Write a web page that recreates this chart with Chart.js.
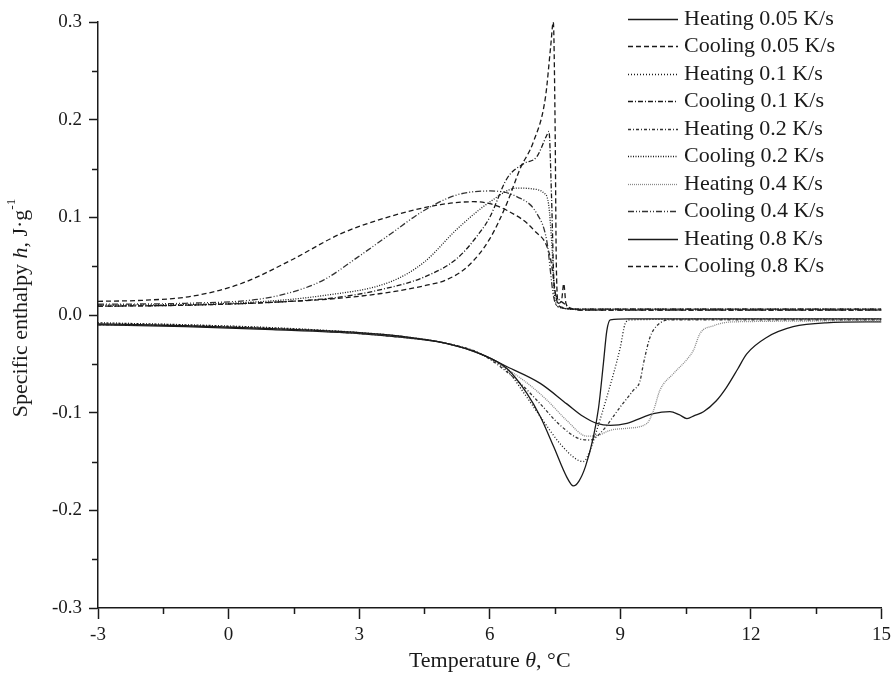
<!DOCTYPE html>
<html>
<head>
<meta charset="utf-8">
<script src="https://cdn.jsdelivr.net/npm/chart.js@4.4.0/dist/chart.umd.min.js"></script>
<style>
  html, body { margin: 0; padding: 0; background: #fff; }
  #wrap { width: 896px; height: 677px; }
</style>
</head>
<body>
<div id="wrap"><canvas id="chart" width="896" height="677"></canvas></div>
<script>
// Axis ticks
const xTicks = [-3, 0, 3, 6, 9, 12, 15];
const xMinor = [-1.5, 1.5, 4.5, 7.5, 10.5, 13.5];
const yTicks = [-0.3, -0.2, -0.1, 0.0, 0.1, 0.2, 0.3];
const yMinor = [-0.25, -0.15, -0.05, 0.05, 0.15, 0.25];

// Series labels (legend order)
const seriesLabels = [
    'Heating 0.05 K/s', 'Cooling 0.05 K/s',
    'Heating 0.1 K/s', 'Cooling 0.1 K/s',
    'Heating 0.2 K/s', 'Cooling 0.2 K/s',
    'Heating 0.4 K/s', 'Cooling 0.4 K/s',
    'Heating 0.8 K/s', 'Cooling 0.8 K/s'
];

// [temperature °C, specific enthalpy J/g]
const heating005 = [[-3,-0.009],[-1,-0.011],[1,-0.014],[3,-0.018],[4,-0.022],[5,-0.029],[5.8,-0.040],[6.4,-0.055],[6.85,-0.080],[7.16,-0.104],[7.47,-0.135],[7.77,-0.166],[7.92,-0.175],[8.05,-0.170],[8.2,-0.155],[8.38,-0.125],[8.5,-0.095],[8.61,-0.050],[8.69,-0.016],[8.77,-0.005],[9.2,-0.004],[12,-0.004],[15,-0.004]];
const cooling005 = [[-3,0.009],[-1,0.010],[1,0.013],[2.5,0.017],[3.5,0.022],[4.5,0.030],[5.0,0.036],[5.5,0.050],[6.0,0.078],[6.4,0.115],[6.7,0.150],[7.0,0.177],[7.28,0.223],[7.40,0.275],[7.46,0.300],[7.50,0.200],[7.53,0.050],[7.58,0.012],[7.65,0.015],[7.70,0.032],[7.75,0.012],[7.85,0.007],[8.2,0.005],[15,0.005]];
const heating01 = [[-3,-0.008],[-1,-0.010],[1,-0.013],[3,-0.018],[4,-0.022],[5,-0.029],[5.8,-0.040],[6.4,-0.057],[6.85,-0.084],[7.16,-0.104],[7.62,-0.132],[8.0,-0.148],[8.15,-0.150],[8.31,-0.138],[8.5,-0.112],[8.69,-0.084],[9.0,-0.033],[9.11,-0.009],[9.22,-0.005],[12,-0.004],[15,-0.004]];
const cooling01 = [[-3,0.009],[-1,0.010],[1,0.013],[2.5,0.018],[3.5,0.026],[4.5,0.039],[5.25,0.058],[5.78,0.085],[6.0,0.100],[6.4,0.140],[6.78,0.155],[7.08,0.162],[7.31,0.184],[7.36,0.188],[7.42,0.120],[7.48,0.030],[7.55,0.018],[7.7,0.012],[7.9,0.006],[8.3,0.005],[15,0.005]];
const heating02 = [[-3,-0.010],[-1,-0.011],[1,-0.014],[3,-0.019],[4,-0.023],[5,-0.029],[5.8,-0.040],[6.7,-0.070],[7.16,-0.091],[7.62,-0.113],[8.08,-0.127],[8.31,-0.128],[8.54,-0.121],[9.0,-0.094],[9.3,-0.077],[9.45,-0.068],[9.53,-0.050],[9.68,-0.023],[9.84,-0.011],[10.14,-0.005],[12,-0.005],[15,-0.005]];
const cooling02 = [[-3,0.010],[0,0.012],[2.19,0.020],[3.72,0.034],[4.49,0.054],[5.25,0.088],[6.01,0.116],[6.63,0.130],[7.0,0.129],[7.24,0.125],[7.35,0.114],[7.43,0.070],[7.50,0.015],[7.6,0.008],[8,0.006],[15,0.006]];
const heating04 = [[-3,-0.008],[-1,-0.010],[1,-0.013],[3,-0.018],[4,-0.022],[5,-0.029],[5.8,-0.040],[6.78,-0.067],[7.31,-0.087],[7.77,-0.108],[8.23,-0.124],[8.5,-0.123],[8.77,-0.118],[9.15,-0.116],[9.61,-0.111],[9.76,-0.098],[9.91,-0.077],[10.22,-0.060],[10.52,-0.046],[10.68,-0.036],[10.83,-0.019],[11.14,-0.011],[11.59,-0.007],[15,-0.006]];
const cooling04 = [[-3,0.011],[-1,0.012],[0.66,0.016],[1.5,0.024],[2.19,0.036],[2.96,0.059],[3.72,0.083],[4.49,0.107],[5.25,0.123],[6.01,0.127],[6.63,0.121],[7.08,0.104],[7.31,0.076],[7.47,0.018],[7.6,0.008],[8,0.006],[15,0.006]];
const heating08 = [[-3,-0.010],[-1,-0.012],[1,-0.015],[3,-0.019],[4,-0.023],[5,-0.029],[5.8,-0.040],[6.4,-0.053],[7.16,-0.070],[7.77,-0.091],[8.15,-0.104],[8.46,-0.111],[8.77,-0.113],[9.15,-0.111],[9.5,-0.105],[9.76,-0.101],[10.14,-0.099],[10.35,-0.102],[10.53,-0.106],[10.7,-0.103],[10.91,-0.099],[11.2,-0.088],[11.44,-0.074],[11.7,-0.055],[11.9,-0.040],[12.36,-0.023],[12.97,-0.012],[13.73,-0.008],[15,-0.007]];
const cooling08 = [[-3,0.014],[-2,0.015],[-0.87,0.019],[0.28,0.032],[1.43,0.056],[2.57,0.083],[3.72,0.101],[4.87,0.113],[5.63,0.116],[6.0,0.114],[6.4,0.107],[7.01,0.087],[7.39,0.059],[7.54,0.015],[7.65,0.008],[8,0.006],[15,0.006]];

const seriesData = [heating005, cooling005, heating01, cooling01, heating02, cooling02, heating04, cooling04, heating08, cooling08];

// line looks per series
const seriesDash = [[], [5,3], [1,2], [5,2,1,2], [3,2,1,2], [1,1.5], [1,1], [6,2,1,2,1,2], [], [5,3]];
const seriesColor = ['#1a1a1a','#1a1a1a','#1a1a1a','#1a1a1a','#333','#1a1a1a','#8a8a8a','#333','#1a1a1a','#1a1a1a'];

const FONT = '"Liberation Serif", "Times New Roman", serif';
const INK = '#1a1a1a';

// minor ticks, axis titles with italic parts, and line legend
const extrasPlugin = {
    id: 'extras',
    afterDraw: (chart) => {
        const ctx = chart.ctx;
        const area = chart.chartArea;
        const xs = chart.scales.x, ys = chart.scales.y;
        ctx.save();
        ctx.strokeStyle = INK;
        ctx.lineWidth = 1.5;
        ctx.beginPath();
        xMinor.forEach(v => {
            const px = Math.round(xs.getPixelForValue(v)) + 0.5;
            ctx.moveTo(px, area.bottom);
            ctx.lineTo(px, area.bottom + 6);
        });
        yMinor.forEach(v => {
            const py = Math.round(ys.getPixelForValue(v)) + 0.5;
            ctx.moveTo(area.left, py);
            ctx.lineTo(area.left - 6, py);
        });
        ctx.stroke();

        // x title
        ctx.fillStyle = INK;
        ctx.textBaseline = 'middle';
        const xParts = [['Temperature ', ''], ['\u03b8', 'italic '], [', \u00b0C', '']];
        drawParts(ctx, xParts, (area.left + area.right) / 2, 661, 22);

        // y title (rotated)
        ctx.save();
        ctx.translate(21, 308);
        ctx.rotate(-Math.PI / 2);
        const yParts = [['Specific enthalpy ', ''], ['h', 'italic '], [', J\u00b7g', ''], ['-1', 'sup']];
        drawParts(ctx, yParts, 0, 0, 22);
        ctx.restore();

        // legend
        chart.data.datasets.forEach((ds, i) => {
            const y = Math.round(18.5 + i * 27.5) + 0.5;
            ctx.save();
            ctx.strokeStyle = ds.borderColor;
            ctx.lineWidth = ds.borderWidth;
            ctx.setLineDash(ds.borderDash);
            ctx.beginPath();
            ctx.moveTo(628, y);
            ctx.lineTo(678, y);
            ctx.stroke();
            ctx.restore();
            ctx.font = '22px ' + FONT;
            ctx.textAlign = 'left';
            ctx.fillText(ds.label, 684, y);
        });
        ctx.restore();
    }
};

function drawParts(ctx, parts, cx, cy, size) {
    const fontFor = (p) => p[1] === 'sup' ? (size * 0.6) + 'px ' + FONT : p[1] + size + 'px ' + FONT;
    let total = 0;
    parts.forEach(p => { ctx.font = fontFor(p); total += ctx.measureText(p[0]).width; });
    let x = cx - total / 2;
    ctx.textAlign = 'left';
    parts.forEach(p => {
        ctx.font = fontFor(p);
        const dy = p[1] === 'sup' ? -size * 0.45 : 0;
        ctx.fillText(p[0], x, cy + dy);
        x += ctx.measureText(p[0]).width;
    });
}

const datasets = seriesData.map((arr, i) => ({
    label: seriesLabels[i],
    data: arr.map(p => ({ x: p[0], y: p[1] })),
    borderColor: seriesColor[i],
    borderWidth: 1.3,
    borderDash: seriesDash[i],
    pointRadius: 0,
    fill: false,
    cubicInterpolationMode: 'monotone'
}));

new Chart(document.getElementById('chart').getContext('2d'), {
    type: 'line',
    data: { datasets },
    options: {
        responsive: false,
        animation: false,
        devicePixelRatio: 1,
        layout: { padding: { top: 22, right: 14, left: 0, bottom: 0 } },
        plugins: { legend: { display: false }, tooltip: { enabled: false } },
        scales: {
            x: {
                type: 'linear',
                min: -3, max: 15,
                afterFit: (scale) => { scale.height = 69; },
                afterBuildTicks: (scale) => { scale.ticks = xTicks.map(v => ({ value: v })); },
                ticks: { color: INK, font: { family: FONT, size: 19 }, padding: 5, maxRotation: 0, callback: (v) => String(v) },
                grid: { drawOnChartArea: false, tickLength: 11, tickColor: INK, tickWidth: 1.5 },
                border: { color: INK, width: 1.5 }
            },
            y: {
                min: -0.3, max: 0.3,
                afterFit: (scale) => { scale.width = 98; },
                afterBuildTicks: (scale) => { scale.ticks = yTicks.map(v => ({ value: v })); },
                ticks: { color: INK, font: { family: FONT, size: 19 }, padding: 7,
                    callback: (v) => (Math.abs(v) < 1e-9 ? 0 : v).toFixed(1) },
                grid: { drawOnChartArea: false, tickLength: 9, tickColor: INK, tickWidth: 1.5 },
                border: { color: INK, width: 1.5 }
            }
        }
    },
    plugins: [extrasPlugin]
});
</script>
</body>
</html>
